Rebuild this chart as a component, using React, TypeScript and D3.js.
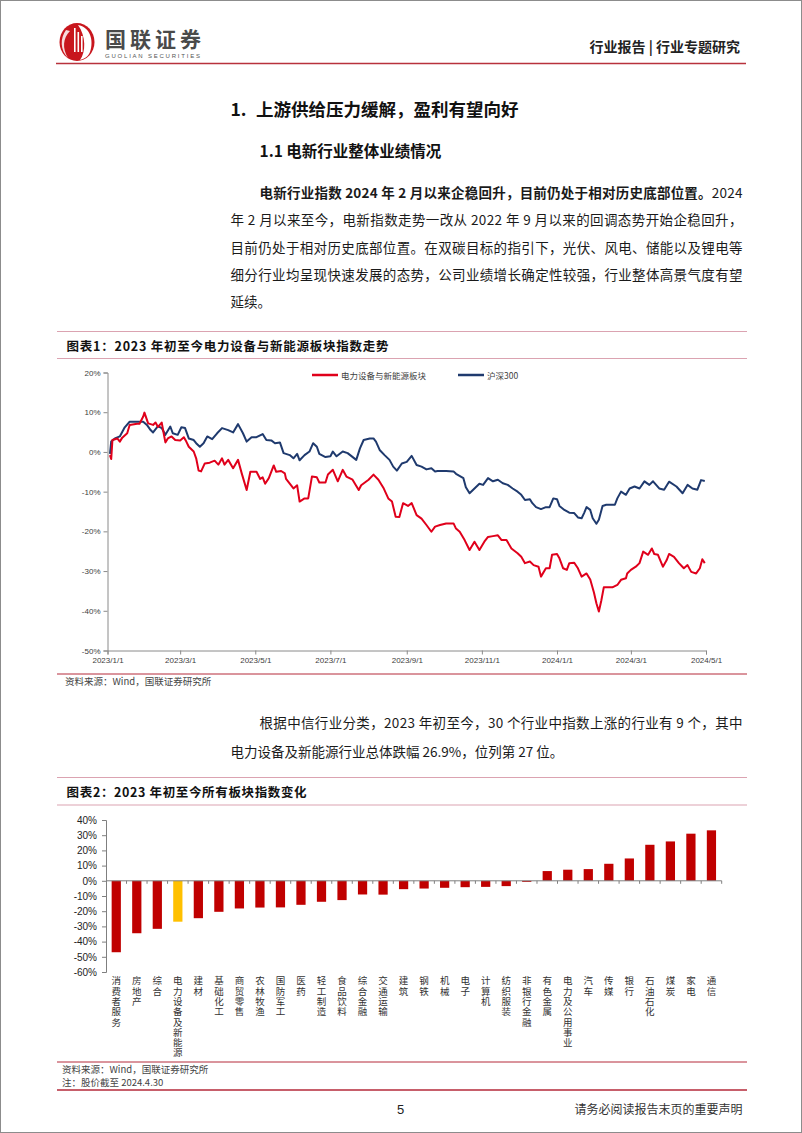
import React, { useEffect, useRef } from 'react';
import * as d3 from 'd3';

// ---- chart 1: index trend since 2023 (% change) ----
const LINE_NAMES = ['电力设备与新能源板块', '沪深300'];
const LINE_COLORS = ['#E0001B', '#1F3A6E'];

const ENERGY: [string, number][] = [
  ['2023-01-03', -0.8], ['2023-01-04', -1.8], ['2023-01-05', 3.0], ['2023-01-09', 3.4], ['2023-01-11', 2.6],
  ['2023-01-13', 3.6], ['2023-01-17', 4.7], ['2023-01-19', 6.8], ['2023-01-25', 7.1], ['2023-01-27', 7.1],
  ['2023-01-30', 8.9], ['2023-01-31', 9.9], ['2023-02-03', 7.2], ['2023-02-07', 6.8], ['2023-02-09', 7.4],
  ['2023-02-11', 6.3], ['2023-02-14', 7.4], ['2023-02-17', 2.4], ['2023-02-19', 3.4], ['2023-02-22', 3.9],
  ['2023-02-25', 3.0], ['2023-03-01', 2.9], ['2023-03-04', 3.7], ['2023-03-06', 2.6], ['2023-03-08', 1.3],
  ['2023-03-12', 0.1], ['2023-03-14', -1.6], ['2023-03-16', -4.7], ['2023-03-18', -4.9], ['2023-03-21', -2.9],
  ['2023-03-25', -2.7], ['2023-03-29', -2.2], ['2023-04-01', -3.2], ['2023-04-04', -1.6], ['2023-04-06', -3.2],
  ['2023-04-09', -2.0], ['2023-04-13', -4.1], ['2023-04-17', -2.0], ['2023-04-20', -5.4], ['2023-04-24', -9.6],
  ['2023-04-27', -5.0], ['2023-05-02', -5.0], ['2023-05-05', -6.8], ['2023-05-07', -6.4], ['2023-05-09', -8.0],
  ['2023-05-12', -6.6], ['2023-05-16', -3.4], ['2023-05-18', -5.0], ['2023-05-22', -4.8], ['2023-05-25', -5.4],
  ['2023-05-26', -6.8], ['2023-05-29', -8.0], ['2023-06-01', -9.2], ['2023-06-04', -8.4], ['2023-06-06', -12.5],
  ['2023-06-10', -11.7], ['2023-06-13', -11.7], ['2023-06-16', -6.2], ['2023-06-20', -6.4], ['2023-06-22', -7.7],
  ['2023-06-27', -7.7], ['2023-06-29', -5.7], ['2023-07-03', -4.5], ['2023-07-07', -7.4], ['2023-07-11', -4.5],
  ['2023-07-14', -6.2], ['2023-07-19', -7.0], ['2023-07-24', -9.6], ['2023-07-26', -8.4], ['2023-08-01', -7.0],
  ['2023-08-05', -5.7], ['2023-08-09', -7.0], ['2023-08-13', -9.0], ['2023-08-17', -11.7], ['2023-08-20', -12.5],
  ['2023-08-23', -16.3], ['2023-08-26', -16.4], ['2023-08-29', -12.9], ['2023-09-02', -13.6], ['2023-09-05', -12.9],
  ['2023-09-09', -15.9], ['2023-09-13', -16.8], ['2023-09-17', -18.4], ['2023-09-21', -20.1], ['2023-09-24', -18.8],
  ['2023-09-28', -18.4], ['2023-10-03', -18.0], ['2023-10-09', -18.0], ['2023-10-11', -19.3], ['2023-10-14', -20.1],
  ['2023-10-18', -22.2], ['2023-10-22', -24.7], ['2023-10-26', -22.6], ['2023-10-30', -24.7], ['2023-11-03', -22.6],
  ['2023-11-06', -21.4], ['2023-11-10', -21.2], ['2023-11-14', -21.0], ['2023-11-17', -22.2], ['2023-11-21', -22.2],
  ['2023-11-25', -24.3], ['2023-11-30', -25.5], ['2023-12-03', -26.4], ['2023-12-06', -28.0], ['2023-12-10', -27.6],
  ['2023-12-13', -28.5], ['2023-12-17', -28.9], ['2023-12-19', -31.4], ['2023-12-23', -29.3], ['2023-12-26', -29.3],
  ['2023-12-28', -25.9], ['2024-01-01', -25.7], ['2024-01-03', -26.8], ['2024-01-06', -29.3], ['2024-01-09', -29.7],
  ['2024-01-11', -28.0], ['2024-01-15', -27.9], ['2024-01-18', -29.3], ['2024-01-21', -31.4], ['2024-01-25', -30.6],
  ['2024-01-28', -32.1], ['2024-01-31', -35.4], ['2024-02-02', -38.1], ['2024-02-04', -40.2], ['2024-02-06', -37.4],
  ['2024-02-08', -34.1], ['2024-02-15', -34.1], ['2024-02-19', -33.5], ['2024-02-22', -32.2], ['2024-02-26', -31.8],
  ['2024-02-27', -30.6], ['2024-03-01', -29.7], ['2024-03-05', -28.9], ['2024-03-08', -28.0], ['2024-03-11', -25.1],
  ['2024-03-15', -25.9], ['2024-03-18', -24.3], ['2024-03-20', -25.7], ['2024-03-23', -25.9], ['2024-03-27', -28.9],
  ['2024-03-30', -27.3], ['2024-04-01', -25.7], ['2024-04-05', -26.4], ['2024-04-09', -28.0], ['2024-04-13', -29.3],
  ['2024-04-16', -28.5], ['2024-04-19', -30.2], ['2024-04-23', -30.6], ['2024-04-26', -29.3], ['2024-04-28', -27.0],
  ['2024-04-30', -28.0],
];

const HS300: [string, number][] = [
  ['2023-01-03', -0.5], ['2023-01-04', 2.6], ['2023-01-07', 3.4], ['2023-01-11', 3.9], ['2023-01-15', 6.2],
  ['2023-01-19', 7.6], ['2023-01-30', 7.6], ['2023-02-02', 6.8], ['2023-02-05', 5.5], ['2023-02-07', 4.9],
  ['2023-02-11', 6.5], ['2023-02-14', 6.0], ['2023-02-17', 4.3], ['2023-02-21', 6.4], ['2023-02-23', 4.7],
  ['2023-02-27', 4.3], ['2023-03-02', 6.2], ['2023-03-05', 6.0], ['2023-03-08', 3.4], ['2023-03-12', 3.0],
  ['2023-03-14', 2.2], ['2023-03-17', 1.3], ['2023-03-20', 2.2], ['2023-03-23', 3.9], ['2023-03-27', 3.2],
  ['2023-03-31', 4.7], ['2023-04-04', 6.0], ['2023-04-09', 5.5], ['2023-04-13', 4.9], ['2023-04-17', 7.0],
  ['2023-04-21', 4.7], ['2023-04-24', 2.6], ['2023-04-28', 3.7], ['2023-05-02', 3.7], ['2023-05-07', 4.5],
  ['2023-05-10', 3.0], ['2023-05-14', 2.9], ['2023-05-17', 2.2], ['2023-05-21', 2.4], ['2023-05-24', -0.3],
  ['2023-05-29', -0.8], ['2023-06-01', -1.6], ['2023-06-04', -0.5], ['2023-06-06', -2.1], ['2023-06-10', -0.8],
  ['2023-06-14', 0.1], ['2023-06-17', 2.2], ['2023-06-20', 1.3], ['2023-06-22', -0.5], ['2023-06-27', -1.3],
  ['2023-07-01', -1.1], ['2023-07-03', 0.1], ['2023-07-06', -1.1], ['2023-07-11', 0.1], ['2023-07-15', -0.3],
  ['2023-07-22', -2.0], ['2023-07-25', 0.9], ['2023-07-28', 3.0], ['2023-08-02', 3.4], ['2023-08-05', 3.4],
  ['2023-08-07', 2.6], ['2023-08-10', 0.5], ['2023-08-14', -0.8], ['2023-08-18', -2.0], ['2023-08-21', -3.7],
  ['2023-08-24', -4.7], ['2023-08-28', -2.9], ['2023-09-01', -2.5], ['2023-09-05', -1.0], ['2023-09-09', -3.3],
  ['2023-09-13', -3.7], ['2023-09-17', -4.4], ['2023-09-21', -4.1], ['2023-09-24', -4.9], ['2023-09-26', -4.8],
  ['2023-10-03', -4.8], ['2023-10-09', -4.9], ['2023-10-11', -5.5], ['2023-10-17', -6.6], ['2023-10-19', -8.9],
  ['2023-10-22', -10.4], ['2023-10-26', -9.2], ['2023-10-30', -8.0], ['2023-11-02', -8.3], ['2023-11-06', -6.6],
  ['2023-11-10', -7.4], ['2023-11-14', -7.0], ['2023-11-18', -7.9], ['2023-11-22', -8.3], ['2023-11-26', -9.2],
  ['2023-11-30', -10.0], ['2023-12-03', -10.8], ['2023-12-06', -12.1], ['2023-12-10', -11.9], ['2023-12-12', -12.9],
  ['2023-12-15', -13.9], ['2023-12-19', -14.4], ['2023-12-23', -13.9], ['2023-12-26', -13.9], ['2023-12-29', -11.7],
  ['2024-01-01', -11.9], ['2024-01-03', -13.6], ['2024-01-07', -14.6], ['2024-01-11', -15.3], ['2024-01-15', -15.4],
  ['2024-01-18', -16.5], ['2024-01-21', -16.7], ['2024-01-23', -15.4], ['2024-01-25', -13.9], ['2024-01-28', -14.6],
  ['2024-01-30', -16.7], ['2024-02-02', -18.1], ['2024-02-04', -17.1], ['2024-02-07', -13.6], ['2024-02-10', -13.3],
  ['2024-02-17', -13.3], ['2024-02-19', -11.7], ['2024-02-22', -10.0], ['2024-02-26', -10.8], ['2024-02-29', -9.2],
  ['2024-03-04', -8.7], ['2024-03-08', -9.2], ['2024-03-12', -7.4], ['2024-03-16', -8.3], ['2024-03-19', -7.4],
  ['2024-03-24', -9.2], ['2024-03-28', -9.5], ['2024-04-01', -7.5], ['2024-04-07', -8.7], ['2024-04-12', -10.4],
  ['2024-04-16', -8.3], ['2024-04-20', -9.2], ['2024-04-24', -9.5], ['2024-04-27', -7.1], ['2024-04-30', -7.3],
];

const DATE_TICKS = ['2023-01-01', '2023-03-01', '2023-05-01', '2023-07-01', '2023-09-01', '2023-11-01', '2024-01-01', '2024-03-01', '2024-05-01'];
const Y1_TICKS = [20, 10, 0, -10, -20, -30, -40, -50];

// ---- chart 2: change of all CITIC industries since 2023 (%) ----
const INDUSTRIES = [
  '消费者服务', '房地产', '综合', '电力设备及新能源', '建材', '基础化工', '商贸零售', '农林牧渔', '国防军工', '医药',
  '轻工制造', '食品饮料', '综合金融', '交通运输', '建筑', '钢铁', '机械', '电子', '计算机', '纺织服装',
  '非银行金融', '有色金属', '电力及公用事业', '汽车', '传媒', '银行', '石油石化', '煤炭', '家电', '通信',
];
const CHANGES = [
  -47.0, -34.5, -31.6, -26.9, -24.6, -20.4, -18.2, -17.6, -17.5, -15.8,
  -13.8, -12.7, -9.0, -9.1, -5.5, -5.1, -4.6, -4.2, -4.0, -3.5,
  -0.7, 6.4, 7.3, 7.7, 11.2, 14.7, 23.7, 25.9, 31.0, 33.2,
];
const HIGHLIGHT = '电力设备及新能源';
const Y2_TICKS = [40, 30, 20, 10, 0, -10, -20, -30, -40, -50, -60];

const CJK = '"Noto Sans CJK SC", "Noto Sans", sans-serif';
const NUM = '"Liberation Sans", Arial, sans-serif';
const RULE_LIGHT = '#DBA3B1';
const RULE_DARK = '#B52A3A';

const App: React.FC = () => {
  const lineRef = useRef<SVGGElement>(null);
  const barRef = useRef<SVGGElement>(null);

  useEffect(() => {
    if (!lineRef.current) return;
    const g = d3.select(lineRef.current);
    g.selectAll('*').remove();
    const parse = d3.timeParse('%Y-%m-%d');

    const x = d3.scaleTime()
      .domain([parse('2023-01-01') as Date, parse('2024-05-01') as Date])
      .range([107.5, 706]);
    const y = d3.scaleLinear().domain([-50, 20]).range([650.5, 372.5]);

    const yAxis = g.append('g')
      .attr('transform', 'translate(107.5,0)')
      .call(d3.axisLeft(y).tickValues(Y1_TICKS).tickSize(4).tickPadding(3).tickFormat(d => `${d}%`));
    const xAxis = g.append('g')
      .attr('transform', 'translate(0,650.5)')
      .call(d3.axisBottom(x).tickValues(DATE_TICKS.map(d => parse(d) as Date)).tickSize(4).tickPadding(3)
        .tickFormat(d3.timeFormat('%Y/%-m/%-d') as any));
    [yAxis, xAxis].forEach(ax => {
      ax.select('.domain').attr('stroke', '#8a8a8a');
      ax.selectAll('line').attr('stroke', '#8a8a8a');
      ax.selectAll('text').attr('fill', '#404040').attr('font-family', NUM).attr('font-size', '8px');
    });

    const line = d3.line<[string, number]>()
      .x(d => x(parse(d[0]) as Date))
      .y(d => y(d[1]));

    [HS300, ENERGY].forEach((series, i) => {
      g.append('path')
        .datum(series)
        .attr('fill', 'none')
        .attr('stroke', i === 0 ? LINE_COLORS[1] : LINE_COLORS[0])
        .attr('stroke-width', 2)
        .attr('stroke-linejoin', 'round')
        .attr('d', line);
    });

    // legend
    const legendX = [312, 458];
    LINE_NAMES.forEach((name, i) => {
      g.append('line')
        .attr('x1', legendX[i]).attr('x2', legendX[i] + 26)
        .attr('y1', 375).attr('y2', 375)
        .attr('stroke', LINE_COLORS[i]).attr('stroke-width', 2.5);
      g.append('text')
        .attr('x', legendX[i] + 29).attr('y', 378.5)
        .attr('font-family', CJK).attr('font-size', '8.5px').attr('fill', '#404040')
        .text(name);
    });
  }, []);

  useEffect(() => {
    if (!barRef.current) return;
    const g = d3.select(barRef.current);
    g.selectAll('*').remove();

    const x = d3.scaleBand<string>()
      .domain(INDUSTRIES)
      .range([106, 721.7])
      .paddingInner(0.55)
      .paddingOuter(0.275);
    const y = d3.scaleLinear().domain([-60, 40]).range([972, 820]);

    g.selectAll('rect.bar')
      .data(INDUSTRIES)
      .enter()
      .append('rect')
      .attr('class', 'bar')
      .attr('x', d => x(d) as number)
      .attr('width', x.bandwidth())
      .attr('y', (d, i) => y(Math.max(0, CHANGES[i])))
      .attr('height', (d, i) => Math.abs(y(CHANGES[i]) - y(0)))
      .attr('fill', d => (d === HIGHLIGHT ? '#FFC000' : '#C00000'));

    const yAxis = g.append('g')
      .attr('transform', 'translate(106,0)')
      .call(d3.axisLeft(y).tickValues(Y2_TICKS).tickSize(4).tickPadding(5).tickFormat(d => `${d}%`));
    yAxis.select('.domain').attr('stroke', '#7f7f7f');
    yAxis.selectAll('line').attr('stroke', '#7f7f7f');
    yAxis.selectAll('text').attr('fill', '#222').attr('font-family', NUM).attr('font-size', '10px');

    // category axis on the zero line
    const step = x.step();
    g.append('line')
      .attr('x1', 106).attr('x2', 721.7)
      .attr('y1', y(0)).attr('y2', y(0))
      .attr('stroke', '#7f7f7f');
    g.selectAll('line.tick2')
      .data(d3.range(1, INDUSTRIES.length + 1))
      .enter()
      .append('line')
      .attr('class', 'tick2')
      .attr('x1', i => 106 + i * step).attr('x2', i => 106 + i * step)
      .attr('y1', y(0)).attr('y2', y(0) + 3)
      .attr('stroke', '#7f7f7f');

    // vertical category labels, one character per row
    g.selectAll('text.cat')
      .data(INDUSTRIES)
      .enter()
      .append('text')
      .attr('class', 'cat')
      .attr('x', d => (x(d) as number) + x.bandwidth() / 2)
      .attr('y', 976)
      .attr('font-family', CJK)
      .attr('font-size', '9.5px')
      .attr('letter-spacing', '0.8px')
      .attr('fill', '#333')
      .style('writing-mode', 'vertical-rl')
      .style('text-orientation', 'upright')
      .text(d => d);
  }, []);

  const body = { fontFamily: CJK, fontSize: 13.5, fill: '#1a1a1a' } as const;

  return (
    <div style={{ position: 'absolute', left: 0, top: 0, width: 802, height: 1133, background: '#fff' }}>
      <svg width={802} height={1133} viewBox="0 0 802 1133">
        <rect x={0.5} y={0.5} width={801} height={1132} fill="#fff" stroke="#8c8c8c" />

        {/* header */}
        <g>
          <ellipse cx={77} cy={42} rx={17.5} ry={19} fill="#C8161D" />
          <path d="M78 25 C90 27 94 40 90 52 C88 57 84 59 80 60 C86 52 86 36 78 25 Z" fill="#fff" />
          <path d="M66 30 C60 38 60 50 68 58 C62 48 63 38 70 31 Z" fill="#fff" opacity={0.85} />
          {[74, 77.5, 81].map((lx, i) => (
            <rect key={i} x={lx} y={28 + i * 4} width={1.6} height={24 - i * 4} fill="#fff" />
          ))}
          <text x={105} y={46.5} fontFamily={CJK} fontWeight={700} fontSize={21} fill="#4a4a4a" textLength={96}>国联证券</text>
          <text x={105} y={57.5} fontFamily={NUM} fontSize={6} fill="#555" textLength={95}>GUOLIAN SECURITIES</text>
          <text x={740} y={52} textAnchor="end" fontFamily={CJK} fontWeight={700} fontSize={14} fill="#222">行业报告 | 行业专题研究</text>
          <line x1={56} x2={746} y1={63.5} y2={63.5} stroke="#B8323C" strokeWidth={1.5} />
        </g>

        {/* section headings and text */}
        <text x={230.5} y={116} fontFamily={CJK} fontWeight={700} fontSize={17.5} fill="#111">
          1.<tspan x={256}>上游供给压力缓解，盈利有望向好</tspan>
        </text>
        <text x={259.5} y={157} fontFamily={CJK} fontWeight={700} fontSize={15.5} fill="#111">1.1 电新行业整体业绩情况</text>

        <text x={259.5} y={197.5} {...body} textLength={483} lengthAdjust="spacing">
          <tspan fontWeight={700}>电新行业指数 2024 年 2 月以来企稳回升，目前仍处于相对历史底部位置。</tspan>
          <tspan>2024</tspan>
        </text>
        <text x={230.5} y={225} {...body} textLength={512} lengthAdjust="spacing">年 2 月以来至今，电新指数走势一改从 2022 年 9 月以来的回调态势开始企稳回升，</text>
        <text x={230.5} y={252.5} {...body} textLength={512} lengthAdjust="spacing">目前仍处于相对历史底部位置。在双碳目标的指引下，光伏、风电、储能以及锂电等</text>
        <text x={230.5} y={280} {...body} textLength={512} lengthAdjust="spacing">细分行业均呈现快速发展的态势，公司业绩增长确定性较强，行业整体高景气度有望</text>
        <text x={230.5} y={307} {...body}>延续。</text>

        {/* chart 1 frame */}
        <line x1={57} x2={747} y1={331.5} y2={331.5} stroke={RULE_LIGHT} />
        <text x={66.6} y={350.5} fontFamily={CJK} fontWeight={700} fontSize={12.5} fill="#111" textLength={322} lengthAdjust="spacing">图表1：2023 年初至今电力设备与新能源板块指数走势</text>
        <line x1={57} x2={747} y1={358.5} y2={358.5} stroke={RULE_LIGHT} />
        <g ref={lineRef} />
        <line x1={57} x2={747} y1={674} y2={674} stroke={RULE_DARK} />
        <text x={65} y={684.5} fontFamily={CJK} fontSize={9.5} fill="#444">资料来源：Wind，国联证券研究所</text>

        <text x={259.5} y={728} {...body} textLength={483} lengthAdjust="spacing">根据中信行业分类，2023 年初至今，30 个行业中指数上涨的行业有 9 个，其中</text>
        <text x={230.5} y={756.5} {...body}>电力设备及新能源行业总体跌幅 26.9%，位列第 27 位。</text>

        {/* chart 2 frame */}
        <line x1={57} x2={747} y1={777.5} y2={777.5} stroke={RULE_LIGHT} />
        <text x={66.6} y={796.5} fontFamily={CJK} fontWeight={700} fontSize={12.5} fill="#111" textLength={240} lengthAdjust="spacing">图表2：2023 年初至今所有板块指数变化</text>
        <line x1={57} x2={747} y1={805} y2={805} stroke={RULE_LIGHT} />
        <g ref={barRef} />
        <line x1={57} x2={747} y1={1062} y2={1062} stroke={RULE_DARK} />
        <text x={62} y={1072.5} fontFamily={CJK} fontSize={9.5} fill="#444">资料来源：Wind，国联证券研究所</text>
        <text x={62} y={1086} fontFamily={CJK} fontSize={9.5} fill="#444">注：股价截至 2024.4.30</text>
        <line x1={57} x2={747} y1={1090} y2={1090} stroke={RULE_DARK} strokeWidth={1.3} />

        {/* footer */}
        <text x={400.5} y={1114} textAnchor="middle" fontFamily={NUM} fontSize={13} fill="#222">5</text>
        <text x={742.5} y={1114} textAnchor="end" fontFamily={CJK} fontSize={12} fill="#333">请务必阅读报告末页的重要声明</text>
      </svg>
    </div>
  );
};

export default App;
